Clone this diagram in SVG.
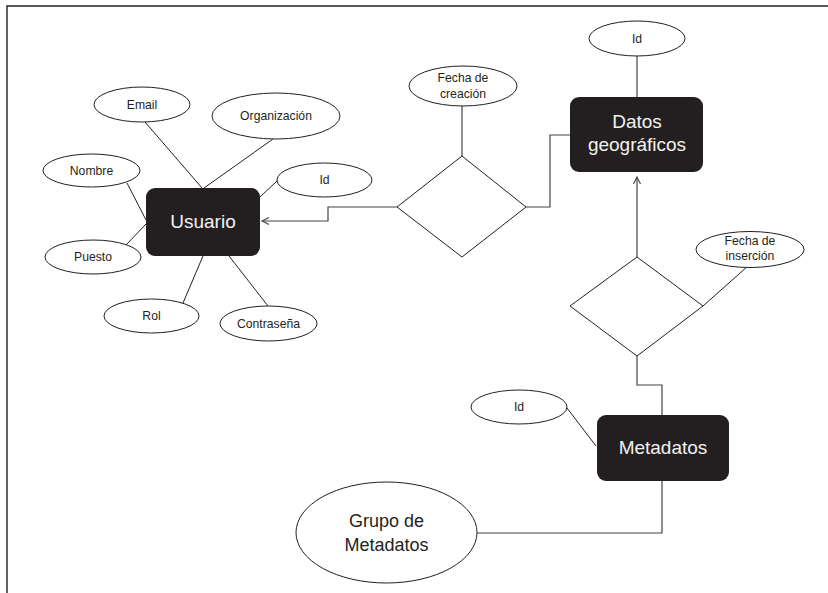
<svg xmlns="http://www.w3.org/2000/svg" width="828" height="593" viewBox="0 0 828 593">
<style>
.attr{fill:#fff;stroke:#231f20;stroke-width:1}
.ent{fill:#231f20;stroke:none}
.rel{fill:#fff;stroke:#231f20;stroke-width:1}
.t{font-family:"Liberation Sans",Arial,sans-serif;fill:#231f20;text-anchor:middle}
.s{font-size:12.2px}
.et{font-family:"Liberation Sans",Arial,sans-serif;fill:#f2f2f2;text-anchor:middle;font-size:19px}
.ln{stroke:#231f20;stroke-width:1;fill:none}
.cn{stroke:#444;stroke-width:1.2;fill:none}
</style>
<defs>
<marker id="arr" markerWidth="10" markerHeight="10" refX="8" refY="4" orient="auto" markerUnits="userSpaceOnUse">
<path d="M1,0.5 L8,4 L1,7.5" fill="none" stroke="#444" stroke-width="1.1"/>
</marker>
</defs>
<g id="frame"><path d="M7,593 V6 H828" fill="none" stroke="#231f20" stroke-width="1.4"/></g>
<g id="connectors">
<line class="ln" x1="145" y1="122" x2="202" y2="188"/>
<line class="ln" x1="273" y1="139" x2="204" y2="188"/>
<line class="ln" x1="127" y1="183" x2="146" y2="220"/>
<line class="ln" x1="126" y1="245" x2="146" y2="224"/>
<line class="ln" x1="260" y1="197" x2="277" y2="181"/>
<line class="ln" x1="203" y1="256" x2="183" y2="303"/>
<line class="ln" x1="229" y1="256" x2="268" y2="306"/>
<line class="ln" x1="462" y1="106" x2="462" y2="156"/>
<line class="ln" x1="637" y1="56" x2="637" y2="97"/>
<line class="ln" x1="748" y1="266" x2="703" y2="306"/>
<line class="ln" x1="567" y1="408" x2="596" y2="446"/>
<polyline class="cn" points="397,207 328,207 328,221 262,221" marker-end="url(#arr)"/>
<polyline class="cn" points="526,207 550,207 550,135 570,135"/>
<polyline class="cn" points="637,257 637,177" marker-end="url(#arr)"/>
<polyline class="cn" points="637,356 637,385 662,385 662,415"/>
<polyline class="cn" points="662,481 662,533 477,533"/>
</g>
<g id="usuario"><rect class="ent" x="146" y="188" width="114" height="68" rx="9"/><text class="et" x="203" y="228">Usuario</text></g>
<g id="email"><ellipse class="attr" cx="142" cy="104.5" rx="48" ry="17.5"/><text class="t s" x="142" y="108.5">Email</text></g>
<g id="organizacion"><ellipse class="attr" cx="276" cy="116" rx="64" ry="23"/><text class="t s" x="276" y="120">Organización</text></g>
<g id="nombre"><ellipse class="attr" cx="91.5" cy="170.5" rx="48.5" ry="16.5"/><text class="t s" x="91.5" y="174.5">Nombre</text></g>
<g id="id-usuario"><ellipse class="attr" cx="324.5" cy="180" rx="47.5" ry="17"/><text class="t s" x="324.5" y="184">Id</text></g>
<g id="puesto"><ellipse class="attr" cx="93" cy="257" rx="48" ry="17"/><text class="t s" x="93" y="261">Puesto</text></g>
<g id="rol"><ellipse class="attr" cx="151.5" cy="316" rx="47.5" ry="17"/><text class="t s" x="151.5" y="320">Rol</text></g>
<g id="contrasena"><ellipse class="attr" cx="268.5" cy="323.5" rx="48.5" ry="17.5"/><text class="t s" x="268.5" y="327.5">Contraseña</text></g>
<g id="rel-creacion"><polygon class="rel" points="397,207 462,156 526,207 462,257"/></g>
<g id="fecha-creacion"><ellipse class="attr" cx="463" cy="86" rx="54" ry="20"/><text class="t s" x="463" y="82">Fecha de</text><text class="t s" x="463" y="98">creación</text></g>
<g id="datos"><rect class="ent" x="570" y="97" width="133" height="75" rx="9"/><text class="et" x="637" y="128">Datos</text><text class="et" x="637" y="151">geográficos</text></g>
<g id="id-datos"><ellipse class="attr" cx="637" cy="38.5" rx="48" ry="17.5"/><text class="t s" x="637" y="42.5">Id</text></g>
<g id="rel-insercion"><polygon class="rel" points="570,306 637,257 703,306 637,356"/></g>
<g id="fecha-insercion"><ellipse class="attr" cx="750" cy="249.5" rx="54" ry="18"/><text class="t s" x="750" y="245">Fecha de</text><text class="t s" x="750" y="260">inserción</text></g>
<g id="metadatos"><rect class="ent" x="597" y="415" width="132" height="66" rx="9"/><text class="et" x="663" y="454">Metadatos</text></g>
<g id="id-metadatos"><ellipse class="attr" cx="519" cy="407" rx="48" ry="17"/><text class="t s" x="519" y="411">Id</text></g>
<g id="grupo"><ellipse class="attr" cx="386.5" cy="532.5" rx="90.5" ry="50.5"/><text class="t" style="font-size:18px" x="386.5" y="527">Grupo de</text><text class="t" style="font-size:18px" x="386.5" y="551">Metadatos</text></g>
</svg>
